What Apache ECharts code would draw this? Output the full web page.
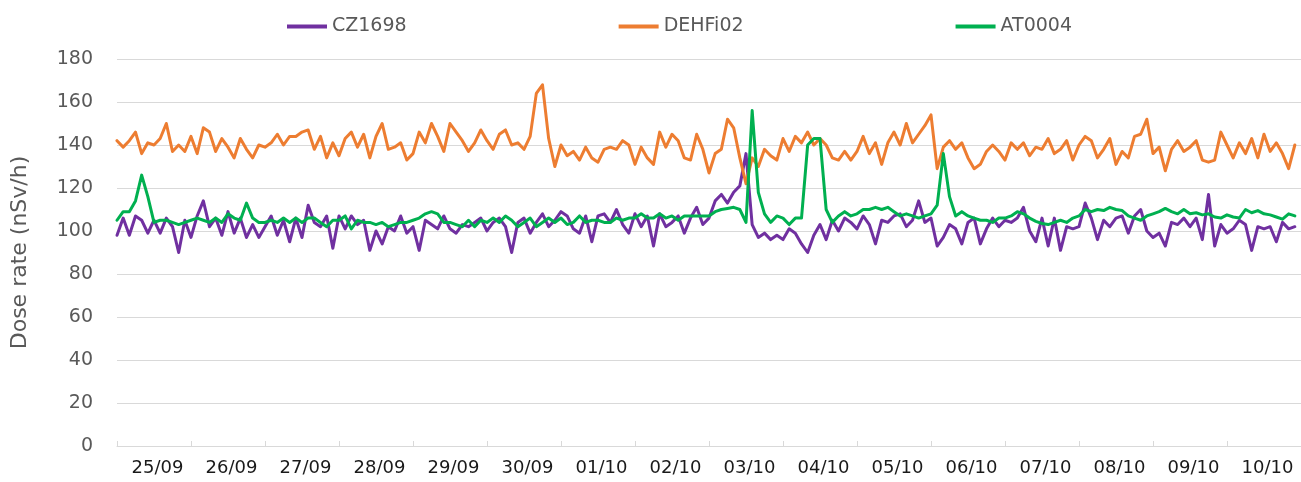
<!DOCTYPE html>
<html>
<head>
<meta charset="utf-8">
<script src="https://cdn.jsdelivr.net/npm/echarts@6/dist/echarts.min.js"></script>
<style>
  html, body { margin: 0; padding: 0; background: #fff; }
  #chart { width: 1301px; height: 482px; }
</style>
</head>
<body>
<div id="chart"></div>
<script>
// dates on the x axis, one category per day
var days = ['25/09', '26/09', '27/09', '28/09', '29/09', '30/09', '01/10', '02/10',
            '03/10', '04/10', '05/10', '06/10', '07/10', '08/10', '09/10', '10/10']
// readings per day (every 2 hours)
var pointsPerDay = 12

var cz1698 = [
  98, 106, 98, 107, 105, 99, 105, 99, 106, 102, 90, 105,
  97, 107, 114, 102, 106, 98, 109, 99, 106, 97, 103, 97,
  102, 107, 98, 105, 95, 106, 97, 112, 104, 102, 107, 92,
  107, 101, 107, 103, 105, 91, 100, 94, 102, 100, 107, 99,
  102, 91, 105, 103, 101, 107, 101, 99, 103, 102, 104, 106,
  100, 104, 106, 102, 90, 104, 106, 99, 104, 108, 102, 105,
  109, 107, 101, 99, 107, 95, 107, 108, 104, 110, 103, 99,
  108, 102, 107, 93, 108, 102, 104, 107, 99, 106, 111, 103,
  106, 114, 117, 113, 118, 121, 136, 103, 97, 99, 96, 98,
  96, 101, 99, 94, 90, 98, 103, 96, 105, 100, 106, 104,
  101, 107, 103, 94, 105, 104, 107, 108, 102, 105, 114, 104,
  106, 93, 97, 103, 101, 94, 104, 106, 94, 101, 106, 102,
  105, 104, 106, 111, 100, 95, 106, 93, 106, 91, 102, 101,
  102, 113, 106, 96, 105, 102, 106, 107, 99, 107, 110, 100,
  97, 99, 93, 104, 103, 106, 102, 106, 96, 117, 93, 103,
  99, 101, 105, 103, 91, 102, 101, 102, 95, 104, 101, 102
]

var dehfi02 = [
  142, 139, 142, 146, 136, 141, 140, 143, 150, 137, 140, 137,
  144, 136, 148, 146, 137, 143, 139, 134, 143, 138, 134, 140,
  139, 141, 145, 140, 144, 144, 146, 147, 138, 144, 134, 141,
  135, 143, 146, 139, 145, 134, 144, 150, 138, 139, 141, 133,
  136, 146, 141, 150, 144, 137, 150, 146, 142, 137, 141, 147,
  142, 138, 145, 147, 140, 141, 138, 144, 164, 168, 143, 130,
  140, 135, 137, 133, 139, 134, 132, 138, 139, 138, 142, 140,
  131, 139, 134, 131, 146, 139, 145, 142, 134, 133, 145, 138,
  127, 136, 138, 152, 148, 134, 122, 134, 130, 138, 135, 133,
  143, 137, 144, 141, 146, 140, 143, 140, 134, 133, 137, 133,
  137, 144, 136, 141, 131, 141, 146, 140, 150, 141, 145, 149,
  154, 129, 139, 142, 138, 141, 134, 129, 131, 137, 140, 137,
  133, 141, 138, 141, 135, 139, 138, 143, 136, 138, 142, 133,
  140, 144, 142, 134, 138, 143, 131, 137, 134, 144, 145, 152,
  136, 139, 128, 138, 142, 137, 139, 142, 133, 132, 133, 146,
  140, 134, 141, 136, 143, 134, 145, 137, 141, 136, 129, 140
]

var at0004 = [
  105, 109, 109, 114, 126, 116, 104, 105, 105, 104, 103, 104,
  105, 106, 105, 104, 106, 104, 108, 106, 105, 113, 106, 104,
  104, 105, 104, 106, 104, 106, 104, 106, 106, 104, 102, 105,
  105, 107, 101, 105, 104, 104, 103, 104, 102, 103, 104, 104,
  105, 106, 108, 109, 108, 104, 104, 103, 102, 105, 102, 105,
  104, 106, 104, 107, 105, 102, 104, 106, 102, 104, 106, 104,
  106, 103, 104, 107, 104, 105, 105, 104, 104, 106, 105, 106,
  106, 108, 106, 106, 108, 106, 107, 105, 107, 107, 107, 107,
  107, 109, 110, 110.5, 111, 110, 104, 156, 118, 108, 104, 107,
  106, 103, 106, 106, 140, 143, 143, 110, 104, 107, 109, 107,
  108, 110, 110, 111, 110, 111, 109, 107, 108, 107, 106, 107,
  108, 112, 136, 116, 107, 109, 107, 106, 105, 105, 104, 106,
  106, 107, 109, 108, 106, 104.5, 103.5, 103, 104, 105, 104, 106,
  107, 110, 109, 110, 109.5, 111, 110, 109.5, 107, 106, 105, 107,
  108, 109, 110.5, 109, 108, 110, 108, 108.5, 107.5, 108, 106.5, 106,
  107.5, 106.5, 106, 110, 108.5, 109.5, 108, 107.5, 106.5, 105.5, 108, 107
]

// x position measured in days from the start of 25/09
function toPoints(values) {
  return values.map(function (v, i) { return [i / pointsPerDay, v] })
}

var myChart = echarts.init(document.getElementById('chart'))
var font = 'DejaVu Sans'

function line(name, color, values) {
  return {
    name: name,
    type: 'line',
    xAxisIndex: 1,
    symbol: 'none',
    lineStyle: { color: color, width: 3, join: 'round', cap: 'round' },
    itemStyle: { color: color },
    data: toPoints(values)
  }
}

var option = {
  animation: false,
  backgroundColor: '#fff',
  legend: {
    left: 282,
    top: 12,
    itemGap: 212,
    itemWidth: 40,
    itemHeight: 4,
    icon: 'rect',
    textStyle: { color: '#595959', fontSize: 19, fontFamily: font }
  },
  grid: { left: 117, right: -5, top: 59, bottom: 36 },
  xAxis: [
    {
      type: 'category',
      data: days,
      boundaryGap: true,
      axisLine: { lineStyle: { color: '#d9d9d9', width: 1 } },
      axisTick: { show: true, inside: true, length: 5, lineStyle: { color: '#d9d9d9' } },
      axisLabel: { interval: 0, margin: 13, color: '#1a1a1a', fontSize: 18, fontFamily: font, padding: [0, 0, 0, 7] },
      splitLine: { show: false }
    },
    {
      type: 'value',
      min: 0,
      max: days.length,
      show: false
    }
  ],
  yAxis: {
    type: 'value',
    min: 0,
    max: 180,
    interval: 20,
    name: 'Dose rate (nSv/h)',
    nameLocation: 'middle',
    nameGap: 86,
    nameTextStyle: { color: '#595959', fontSize: 22, fontFamily: font },
    axisLine: { show: false },
    axisTick: { show: false },
    axisLabel: { margin: 24, color: '#595959', fontSize: 19, fontFamily: font },
    splitLine: { lineStyle: { color: '#d9d9d9', width: 1 } }
  },
  series: [
    line('CZ1698', '#7030a0', cz1698),
    line('DEHFi02', '#ed7d31', dehfi02),
    line('AT0004', '#00b050', at0004)
  ]
}
myChart.setOption(option)
</script>
</body>
</html>
